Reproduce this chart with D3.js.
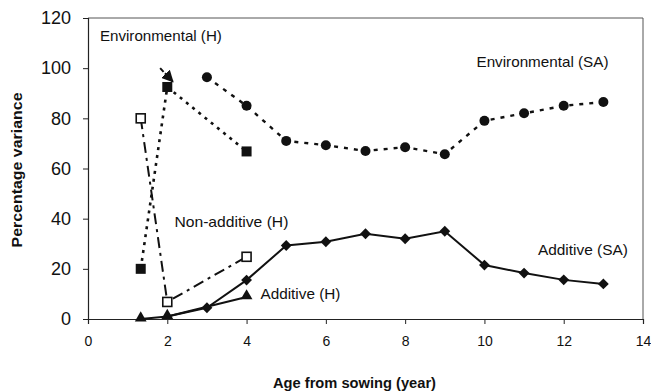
<!DOCTYPE html>
<html><head><meta charset="utf-8">
<script src="https://cdn.jsdelivr.net/npm/d3@7"></script>
<style>body{margin:0;background:#fff}svg{display:block}text{font-family:"Liberation Sans",Arial,sans-serif;fill:#111}</style>
</head><body>
<svg id="c" width="651" height="392"></svg>
<script>
const xTicks = [0,2,4,6,8,10,12,14];
const yTicks = [0,20,40,60,80,100,120];

const envSA_x = [3,4,5,6,7,8,9,10,11,12,13];
const envSA_y = [96.4,85,71,69.3,67,68.5,65.7,79,82,85,86.5];
const addSA_x = [3,4,5,6,7,8,9,10,11,12,13];
const addSA_y = [4.5,15.5,29.3,30.8,34,32,35,21.5,18.3,15.6,14];
const envH_x = [1.33,2,4];
const envH_y = [20,92.5,66.8];
const nonH_x = [1.33,2,4];
const nonH_y = [80,6.8,24.8];
const addH_x = [1.33,2,4];
const addH_y = [0,1,8.8];
const arrow_x = [1.82,2.14];
const arrow_y = [100,94.6];

const labels = [
  {t:"Environmental (H)", x:0.3, y:111, len:122},
  {t:"Environmental (SA)", x:9.8, y:100.5, len:132},
  {t:"Non-additive (H)", x:2.18, y:36.5, len:114},
  {t:"Additive (H)", x:4.35, y:8.0, len:80},
  {t:"Additive (SA)", x:11.35, y:25.5, len:90}
];

const svg = d3.select("#c");
const x = d3.scaleLinear().domain([0,14]).range([88,643]);
const y = d3.scaleLinear().domain([0,120]).range([319,18]);

// frame top/right
svg.append("line").attr("x1",x(0)).attr("x2",x(14)).attr("y1",y(120)).attr("y2",y(120)).attr("stroke","#555").attr("stroke-width",1);
svg.append("line").attr("x1",x(14)).attr("x2",x(14)).attr("y1",y(120)).attr("y2",y(0)).attr("stroke","#555").attr("stroke-width",1);

const gx = svg.append("g").attr("transform",`translate(0,${y(0)})`)
  .call(d3.axisBottom(x).tickValues(xTicks).tickSize(5).tickPadding(12).tickFormat(d3.format("d")));
const gy = svg.append("g").attr("transform",`translate(${x(0)},0)`)
  .call(d3.axisLeft(y).tickValues(yTicks).tickSize(5).tickPadding(12).tickFormat(d3.format("d")));
[gx,gy].forEach(g=>{
  g.select(".domain").attr("stroke","#222").attr("stroke-width",1.2);
  g.selectAll(".tick line").attr("stroke","#222");
  g.selectAll(".tick text").style("font-family",'"Liberation Sans",Arial,sans-serif').attr("fill","#111");
});
gy.selectAll(".tick text").style("font-size","18px");
gx.selectAll(".tick text").style("font-size","14px");
gx.select(".tick:last-of-type line").remove();

const line = d3.line().x(d=>x(d[0])).y(d=>y(d[1]));
function pts(xs,ys){return xs.map((v,i)=>[v,ys[i]]);}

const ser = [
  {d:pts(envH_x,envH_y), dash:"3,5", w:2.6},
  {d:pts(nonH_x,nonH_y), dash:"11,5,3,5", w:2},
  {d:pts(addH_x,addH_y), dash:null, w:2},
  {d:pts(envSA_x,envSA_y), dash:"4,6", w:2.4},
  {d:pts(addSA_x,addSA_y), dash:null, w:2},
];
ser.forEach(s=>{
  svg.append("path").datum(s.d).attr("d",line).attr("fill","none").attr("stroke","#111")
    .attr("stroke-width",s.w).attr("stroke-dasharray",s.dash);
});
svg.append("path").datum([[addH_x[1],addH_y[1]],[addSA_x[0],addSA_y[0]]]).attr("d",line)
  .attr("fill","none").attr("stroke","#111").attr("stroke-width",2);

// arrow
svg.append("defs").append("marker").attr("id","ah").attr("viewBox","0 0 10 10").attr("refX",9).attr("refY",5)
  .attr("markerWidth",6).attr("markerHeight",6).attr("markerUnits","strokeWidth").attr("orient","auto")
  .append("path").attr("d","M0,0 L10,5 L0,10 z").attr("fill","#111");
svg.append("path").datum(pts(arrow_x,arrow_y)).attr("d",line).attr("stroke","#111").attr("stroke-width",2)
  .attr("stroke-dasharray","5,2").attr("fill","none").attr("marker-end","url(#ah)");

// markers
const g = svg.append("g");
g.selectAll(".c").data(pts(envSA_x,envSA_y)).join("circle").attr("cx",d=>x(d[0])).attr("cy",d=>y(d[1])).attr("r",5).attr("fill","#111");
const dia = d3.symbol().type(d3.symbolDiamond2).size(75);
g.selectAll(".d").data(pts(addSA_x,addSA_y)).join("path").attr("d",dia).attr("transform",d=>`translate(${x(d[0])},${y(d[1])})`).attr("fill","#111");
const tri = d3.symbol().type(d3.symbolTriangle).size(60);
g.selectAll(".t").data(pts(addH_x,addH_y)).join("path").attr("d",tri).attr("transform",d=>`translate(${x(d[0])},${y(d[1])-1})`).attr("fill","#111");
g.selectAll(".s").data(pts(envH_x,envH_y)).join("rect").attr("x",d=>x(d[0])-5).attr("y",d=>y(d[1])-5).attr("width",10).attr("height",10).attr("fill","#111");
g.selectAll(".o").data(pts(nonH_x,nonH_y)).join("rect").attr("x",d=>x(d[0])-4.5).attr("y",d=>y(d[1])-4.5).attr("width",9).attr("height",9).attr("fill","#fff").attr("stroke","#111").attr("stroke-width",1.6);

// labels
svg.selectAll(".lab").data(labels).join("text").attr("x",d=>x(d.x)).attr("y",d=>y(d.y)).text(d=>d.t)
  .style("font-size","15px").attr("textLength",d=>d.len).attr("lengthAdjust","spacingAndGlyphs");

svg.append("text").attr("x",354.5).attr("y",388).attr("text-anchor","middle").style("font-size","14px").style("font-weight","bold")
  .attr("textLength",163).attr("lengthAdjust","spacingAndGlyphs").text("Age from sowing (year)");
svg.append("text").attr("transform","translate(22,170) rotate(-90)").attr("text-anchor","middle").style("font-size","15px").style("font-weight","bold")
  .attr("textLength",155).attr("lengthAdjust","spacingAndGlyphs").text("Percentage variance");
</script>
</body></html>
